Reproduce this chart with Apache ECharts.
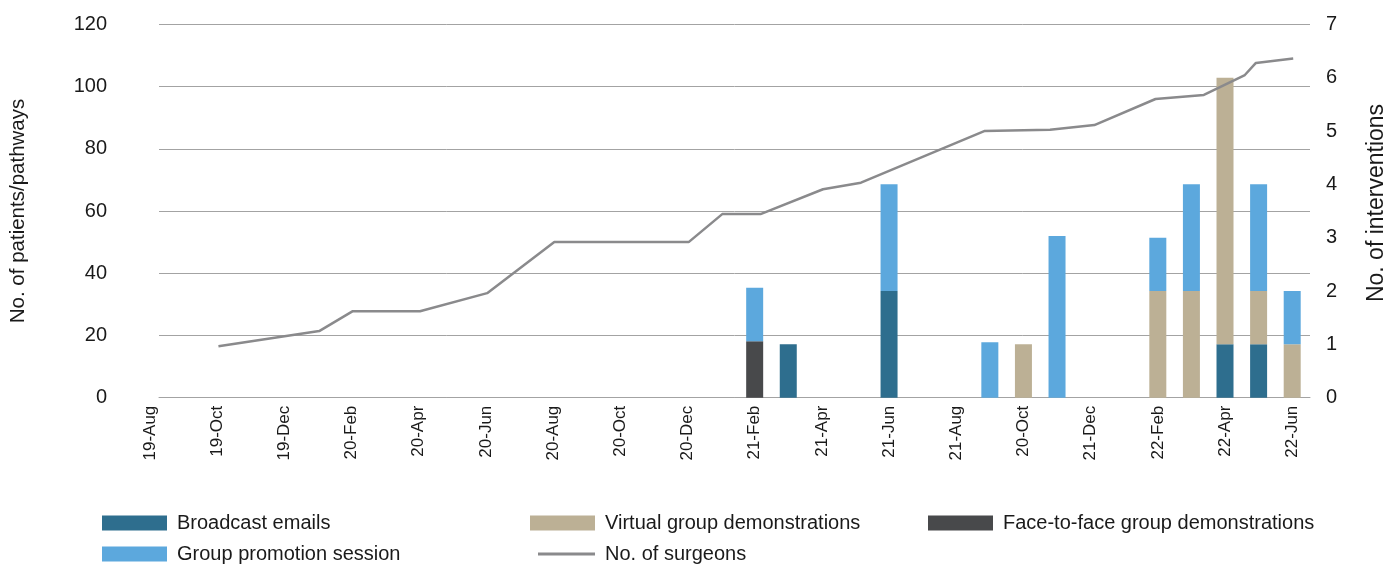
<!DOCTYPE html>
<html>
<head>
<meta charset="utf-8">
<script src="https://cdn.jsdelivr.net/npm/echarts@6/dist/echarts.min.js"></script>
<style>
html,body{margin:0;padding:0;background:#ffffff;}
#chart{width:1396px;height:564px;}
</style>
</head>
<body>
<div id="chart"></div>
<script>
// ---- Data ----
// monthly categories of the chart
const months = ['19-Aug', '19-Sep', '19-Oct', '19-Nov', '19-Dec',
                '20-Jan', '20-Feb', '20-Mar', '20-Apr', '20-May', '20-Jun', '20-Jul', '20-Aug', '20-Sep', '20-Oct', '20-Nov', '20-Dec',
                '21-Jan', '21-Feb', '21-Mar', '21-Apr', '21-May', '21-Jun', '21-Jul', '21-Aug', '21-Sep', '21-Oct', '21-Nov', '21-Dec',
                '22-Jan', '22-Feb', '22-Mar', '22-Apr', '22-May', '22-Jun'];
// tick labels shown every second month (as printed in the original)
const tickLabels = ['19-Aug', '19-Oct', '19-Dec', '20-Feb', '20-Apr', '20-Jun', '20-Aug', '20-Oct', '20-Dec',
                    '21-Feb', '21-Apr', '21-Jun', '21-Aug', '20-Oct', '21-Dec', '22-Feb', '22-Apr', '22-Jun'];

// interventions (right axis), one entry per bar month
const barMonths        = ['21-Feb', '21-Mar', '21-Jun', '21-Sep', '21-Oct', '21-Nov', '22-Feb', '22-Mar', '22-Apr', '22-May', '22-Jun'];
const broadcastEmails  = [null, 1, 2, null, null, null, null, null, 1, 1, null];
const faceToFaceDemos  = [1.06, null, null, null, null, null, null, null, null, null, null];
const virtualDemos     = [null, null, null, null, 1, null, 2, 2, 5, 1, 1];
const promotionSession = [1, null, 2, 1.04, null, 3.03, 1, 2, null, 2, 1];

// No. of surgeons line (left axis); x = months elapsed since 19-Aug
const surgeonMonths = [2, 5, 6, 8, 10, 12, 16, 17, 18.14, 20, 21.13, 24.8, 26.76, 28.08, 29.9, 31.34, 32.56, 32.89, 34];
const surgeonCounts = [16.5, 21.4, 27.8, 27.8, 33.6, 50, 50, 59, 59, 67, 69.1, 85.7, 86.1, 87.6, 96, 97.3, 103.7, 107.6, 109];

// ---- Layout ----
const FONT = "'Liberation Sans', Arial, Helvetica, sans-serif";
const TXT = '#1a1a1a';
const GRID_COLOR = '#a3a3a3';
const gLeft = 157.7, gRight = 1310, gTop = 24.3, gBottom = 397.7;
const nCat = months.length;
const catW = (gRight - gLeft) / (nCat - 0.5 - 0.23);   // width of one month
const xMin = 0.23, xMax = nCat - 0.5;
const catLeft = gRight - nCat * catW;

function monthSeries(values) {
  return months.map(function (m) {
    const k = barMonths.indexOf(m);
    return k >= 0 ? values[k] : null;
  });
}
const pairs = (xs, ys) => xs.map((x, i) => [x, ys[i]]);

const chart = echarts.init(document.getElementById('chart'), null, {renderer: 'canvas'});

const legendBase = {
  orient: 'horizontal',
  padding: 0,
  itemWidth: 65,
  itemHeight: 15,
  icon: 'rect',
  textStyle: {fontFamily: FONT, fontSize: 20, color: TXT, padding: [0, 0, 0, 5]}
};

chart.setOption({
  animation: false,
  backgroundColor: '#ffffff',
  textStyle: {fontFamily: FONT},
  grid: [
    {left: gLeft, top: gTop, width: gRight - gLeft, height: gBottom - gTop, containLabel: false},
    {left: catLeft, top: gTop, width: gRight - catLeft, height: gBottom - gTop, containLabel: false}
  ],
  xAxis: [
    {
      type: 'value', gridIndex: 0, min: xMin, max: xMax,
      axisLine: {show: true, lineStyle: {color: GRID_COLOR, width: 1}},
      axisTick: {show: false}, axisLabel: {show: false}, splitLine: {show: false}
    },
    {
      type: 'category', gridIndex: 1, data: months, boundaryGap: true,
      axisLine: {show: false}, axisTick: {show: false}, splitLine: {show: false},
      axisLabel: {
        show: true, rotate: 90, margin: 8, interval: 1,
        fontFamily: FONT, fontSize: 17, color: TXT,
        formatter: function (v, idx) {
          return idx % 2 === 0 ? tickLabels[idx / 2] : '';
        }
      }
    }
  ],
  yAxis: [
    {
      type: 'value', gridIndex: 0, min: 0, max: 120, interval: 20, position: 'left',
      name: 'No. of patients/pathways', nameLocation: 'middle', nameRotate: 90, nameGap: 130,
      nameTextStyle: {fontFamily: FONT, fontSize: 20.5, color: TXT},
      axisLine: {show: false}, axisTick: {show: false},
      axisLabel: {margin: 52, fontFamily: FONT, fontSize: 20, color: TXT},
      splitLine: {show: true, lineStyle: {color: GRID_COLOR, width: 1}}
    },
    {
      type: 'value', gridIndex: 1, min: 0, max: 7, interval: 1, position: 'right',
      name: 'No. of interventions', nameLocation: 'middle', nameRotate: 90, nameGap: 56,
      nameTextStyle: {fontFamily: FONT, fontSize: 23, color: TXT, padding: [0, 0, 0, 16]},
      axisLine: {show: false}, axisTick: {show: false},
      axisLabel: {margin: 17, fontFamily: FONT, fontSize: 20, color: TXT},
      splitLine: {show: false}
    }
  ],
  legend: [
    Object.assign({}, legendBase, {left: 102, top: 513, data: ['Broadcast emails']}),
    Object.assign({}, legendBase, {left: 530, top: 513, data: ['Virtual group demonstrations']}),
    Object.assign({}, legendBase, {left: 928, top: 513, data: ['Face-to-face group demonstrations']}),
    Object.assign({}, legendBase, {left: 102, top: 544, data: ['Group promotion session']}),
    Object.assign({}, legendBase, {left: 538, top: 544, itemWidth: 57, itemHeight: 3, data: ['No. of surgeons']})
  ],
  series: [
    {
      name: 'Broadcast emails', type: 'bar', xAxisIndex: 1, yAxisIndex: 1, stack: 'interventions',
      barWidth: 17, itemStyle: {color: '#2e6e8e'}, data: monthSeries(broadcastEmails)
    },
    {
      name: 'Face-to-face group demonstrations', type: 'bar', xAxisIndex: 1, yAxisIndex: 1, stack: 'interventions',
      barWidth: 17, itemStyle: {color: '#48494b'}, data: monthSeries(faceToFaceDemos)
    },
    {
      name: 'Virtual group demonstrations', type: 'bar', xAxisIndex: 1, yAxisIndex: 1, stack: 'interventions',
      barWidth: 17, itemStyle: {color: '#bcb095'}, data: monthSeries(virtualDemos)
    },
    {
      name: 'Group promotion session', type: 'bar', xAxisIndex: 1, yAxisIndex: 1, stack: 'interventions',
      barWidth: 17, itemStyle: {color: '#5ca8dd'}, data: monthSeries(promotionSession)
    },
    {
      name: 'No. of surgeons', type: 'line', xAxisIndex: 0, yAxisIndex: 0, z: 5,
      symbol: 'none', showSymbol: false,
      lineStyle: {color: '#8a8a8c', width: 2.5}, itemStyle: {color: '#8a8a8c'},
      data: pairs(surgeonMonths, surgeonCounts)
    }
  ]
});
</script>
</body>
</html>
